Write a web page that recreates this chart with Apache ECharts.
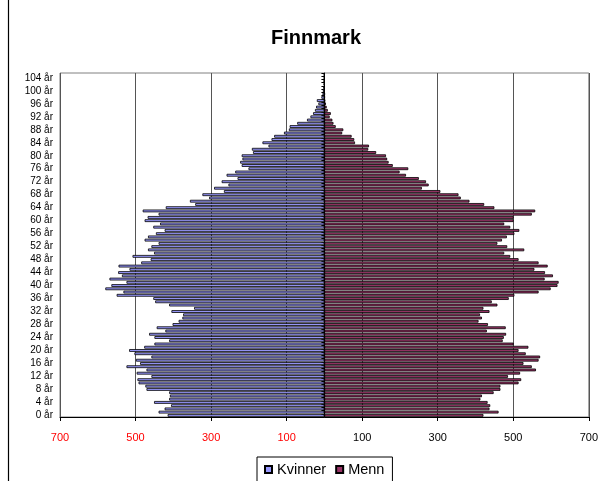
<!DOCTYPE html>
<html>
<head>
<meta charset="utf-8">
<title>Finnmark</title>
<script src="https://cdn.jsdelivr.net/npm/echarts@6/dist/echarts.min.js"></script>
<style>
  html, body { margin: 0; padding: 0; background: #fff; }
  #chart { width: 601px; height: 481px; }
</style>
</head>
<body>
<div id="chart"></div>
<script>
// Ages 0..105, one bar per year
const ages = [];
for (let a = 0; a <= 105; a++) ages.push(a + ' år');

// Women per one-year age group (drawn to the left)
const kvinner = [
  415, 439, 423, 406, 451, 411, 409, 411, 471, 474,
  492, 495, 458, 497, 471, 524, 488, 499, 458, 503,
  517, 477, 450, 411, 450, 464, 421, 444, 402, 386,
  376, 374, 405, 345, 411, 448, 453, 550, 532, 580,
  564, 524, 569, 536, 546, 516, 545, 485, 460, 508,
  451, 467, 458, 439, 476, 467, 446, 423, 453, 435,
  476, 468, 439, 481, 420, 342, 356, 305, 323, 266,
  292, 254, 272, 230, 259, 236, 201, 219, 223, 217,
  219, 189, 192, 148, 164, 140, 133, 107, 94, 92,
  72, 46, 37, 30, 25, 22, 16, 20, 8, 5,
  4, 3, 2, 2, 1, 1
];

// Men per one-year age group (drawn to the right)
const menn = [
  421, 461, 437, 439, 432, 413, 417, 448, 466, 466,
  514, 521, 486, 518, 560, 549, 527, 567, 571, 533,
  514, 540, 501, 472, 475, 481, 430, 480, 433, 408,
  417, 412, 437, 421, 458, 443, 488, 503, 567, 599,
  617, 620, 583, 605, 584, 556, 591, 567, 514, 492,
  476, 529, 484, 458, 470, 483, 503, 516, 492, 476,
  501, 501, 549, 558, 450, 423, 384, 361, 355, 307,
  258, 276, 269, 250, 216, 199, 222, 181, 170, 166,
  163, 137, 116, 118, 81, 79, 72, 47, 50, 30,
  24, 21, 14, 17, 9, 6, 4, 2, 1, 1,
  0, 0, 0, 0, 0, 0
];

// Value axis tick labels (left half shown in red, without sign)
const xTicks = [-700, -500, -300, -100, 100, 300, 500, 700];

const FONT = "'Liberation Sans', Arial, sans-serif";

const chart = echarts.init(document.getElementById('chart'), null, { renderer: 'canvas' });

chart.setOption({
  animation: false,
  backgroundColor: '#ffffff',
  textStyle: { fontFamily: FONT },
  title: {
    text: 'Finnmark',
    left: 311,
    top: 23,
    textAlign: 'center',
    textStyle: { fontFamily: FONT, fontSize: 20, fontWeight: 'bold', color: '#000' }
  },
  legend: {
    data: ['Kvinner', 'Menn'],
    left: 257,
    top: 457,
    orient: 'horizontal',
    icon: 'rect',
    itemWidth: 7,
    itemHeight: 7,
    itemGap: 9,
    padding: [5, 8, 6, 7],
    borderColor: '#000',
    borderWidth: 1,
    textStyle: { fontFamily: FONT, fontSize: 14.5, color: '#000' }
  },
  grid: {
    left: 60,
    right: 11,
    top: 73,
    bottom: 64,
    show: true,
    borderColor: '#808080',
    borderWidth: 1,
    containLabel: false
  },
  xAxis: {
    type: 'value',
    min: xTicks[0],
    max: xTicks[xTicks.length - 1],
    interval: 200,
    axisLine: { show: true, lineStyle: { color: '#000', width: 1 } },
    axisTick: { show: true, length: 4, lineStyle: { color: '#000' } },
    axisLabel: {
      margin: 15,
      fontFamily: FONT,
      fontSize: 11,
      formatter: v => String(Math.abs(v)),
      color: v => (v < 0 ? '#ff0000' : '#000000')
    },
    splitLine: { show: true, lineStyle: { color: '#555', width: 1 } }
  },
  yAxis: [
    {
      type: 'category',
      data: ages,
      axisLine: { show: false, onZero: false },
      axisTick: { show: false },
      axisLabel: { interval: 3, margin: 7, fontFamily: FONT, fontSize: 10, color: '#000' },
      splitLine: { show: false }
    },
    {
      type: 'category',
      data: ages,
      position: 'left',
      axisLine: { show: true, onZero: true, lineStyle: { color: '#000', width: 1 } },
      axisTick: { show: true, interval: 0, length: 3, lineStyle: { color: '#000' } },
      axisLabel: { show: false },
      splitLine: { show: false }
    }
  ],
  series: [
    {
      name: 'Kvinner',
      type: 'bar',
      yAxisIndex: 0,
      data: kvinner.map(v => -v),
      barGap: '-100%',
      barCategoryGap: '15%',
      itemStyle: { color: '#9999ff', borderColor: '#000', borderWidth: 0.8 }
    },
    {
      name: 'Menn',
      type: 'bar',
      yAxisIndex: 0,
      data: menn,
      barGap: '-100%',
      barCategoryGap: '15%',
      itemStyle: { color: '#993366', borderColor: '#000', borderWidth: 0.8 }
    }
  ],
  graphic: [
    {
      type: 'line',
      shape: { x1: 8.5, y1: 0, x2: 8.5, y2: 481 },
      style: { stroke: '#000', lineWidth: 1.2 },
      z: 100
    }
  ]
});
</script>
</body>
</html>
